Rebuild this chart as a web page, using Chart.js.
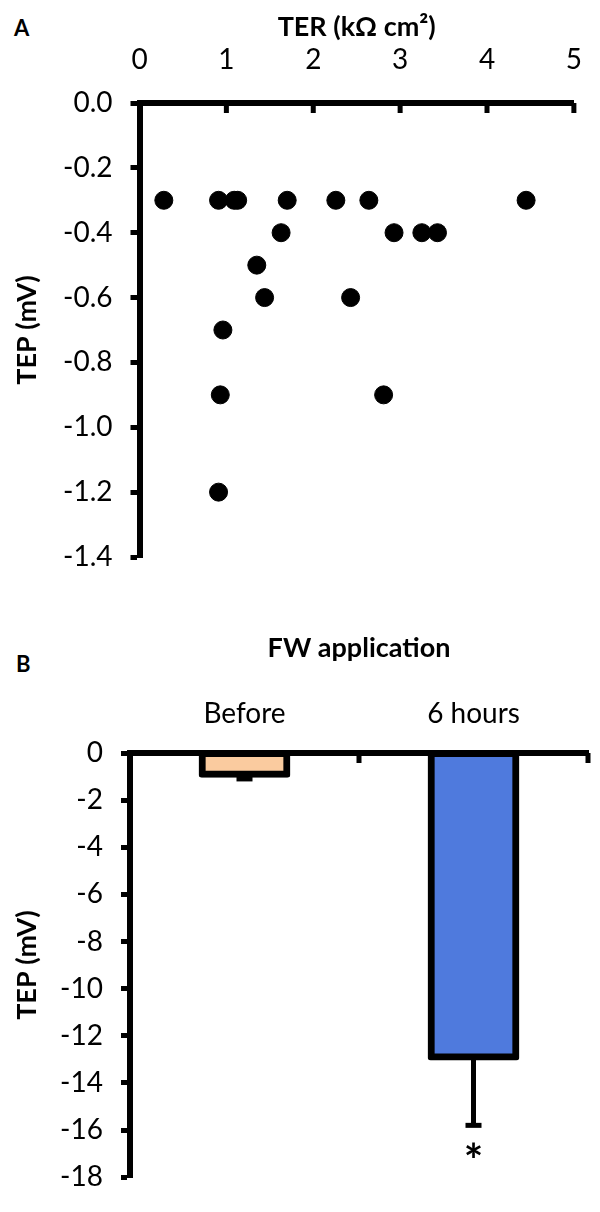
<!DOCTYPE html>
<html>
<head>
<meta charset="utf-8">
<script src="https://cdn.jsdelivr.net/npm/chart.js@4/dist/chart.umd.min.js"></script>
<style>
  body { margin: 0; background: #fff; width: 600px; height: 1212px; position: relative; overflow: hidden; }
  .box { position: absolute; left: 0; width: 600px; }
  .panel { position: absolute; font: bold 22px Lato, "Open Sans", sans-serif; color: #000; }
</style>
</head>
<body>
<div class="panel" style="left:14px; top:14px;">A</div>
<div class="panel" style="left:16px; top:650px;">B</div>
<div class="box" style="top:0; height:600px;"><canvas id="chartA" width="600" height="600"></canvas></div>
<div class="box" style="top:600px; height:612px;"><canvas id="chartB" width="600" height="612"></canvas></div>
<script>
// panel A: TEP vs TER, one point per monolayer
var terValues = [0.28, 0.91, 1.09, 1.13, 1.70, 2.26, 2.64, 4.45, 1.63, 2.93, 3.25, 3.43, 1.35, 1.44, 2.43, 0.96, 0.93, 2.81, 0.91];
var tepValues = [-0.3, -0.3, -0.3, -0.3, -0.3, -0.3, -0.3, -0.3, -0.4, -0.4, -0.4, -0.4, -0.5, -0.6, -0.6, -0.7, -0.9, -0.9, -1.2];

// panel B: TEP before / after FW application
var groups = ["Before", "6 hours"];
var tepMeans = [-0.9, -12.9];
var tepErrors = [0.2, 2.9];
var sigMarks = ["", "*"];
var barColors = ["#FACB9F", "#4F7ADD"];

var FONT = "Lato, 'Open Sans', sans-serif";
Chart.defaults.font.family = FONT;
Chart.defaults.color = "#000";

// tick marks hanging down from a top x axis
var downTicks = {
  id: "downTicks",
  afterDraw: function(chart, args, opts) {
    var x = chart.scales.x, ctx = chart.ctx, top = chart.chartArea.top;
    ctx.save();
    ctx.fillStyle = "#000";
    opts.positions().forEach(function(v) {
      var px = x.getPixelForValue(v);
      ctx.fillRect(px - 2.5, top, 5, 10);
    });
    ctx.restore();
  }
};

new Chart(document.getElementById("chartA").getContext("2d"), {
  type: "scatter",
  data: {
    datasets: [{
      data: terValues.map(function(t, i) { return { x: t, y: tepValues[i] }; }),
      backgroundColor: "#000",
      borderColor: "#000",
      pointRadius: 9,
      pointHoverRadius: 9
    }]
  },
  options: {
    responsive: false,
    animation: false,
    layout: { padding: { left: 0, top: 0, right: 8, bottom: 43 } },
    plugins: {
      legend: { display: false },
      tooltip: { enabled: false },
      downTicks: { positions: function() { return [1, 2, 3, 4, 5]; } }
    },
    scales: {
      x: {
        type: "linear",
        position: "top",
        min: 0, max: 5,
        afterFit: function(s) { s.height = 103; },
        ticks: { stepSize: 1, padding: 18, font: { size: 28 }, color: "#000" },
        grid: { display: false },
        border: { display: true, color: "#000", width: 6 },
        title: { display: true, text: "TER (kΩ cm²)", font: { size: 27, weight: "bold" }, color: "#000", padding: { top: 11, bottom: 0 } }
      },
      y: {
        min: -1.4, max: 0,
        afterFit: function(s) { s.width = 139.5; },
        ticks: { stepSize: 0.2, padding: 18, font: { size: 28 }, color: "#000",
          callback: function(v) { return (Math.abs(v) < 1e-9 ? 0 : v).toFixed(1); } },
        grid: { drawOnChartArea: false, drawTicks: true, tickLength: 9, tickWidth: 5, tickColor: "#000", color: "#000" },
        border: { display: true, color: "#000", width: 6 },
        title: { display: true, text: "TEP (mV)", font: { size: 27, weight: "bold" }, color: "#000", padding: { top: 11, bottom: 0 } }
      }
    }
  },
  plugins: [downTicks]
});

// error bars and significance marks
var errorBars = {
  id: "errorBars",
  afterDatasetsDraw: function(chart) {
    var meta = chart.getDatasetMeta(0), y = chart.scales.y, ctx = chart.ctx;
    ctx.save();
    ctx.fillStyle = "#000";
    meta.data.forEach(function(bar, i) {
      var y0 = y.getPixelForValue(tepMeans[i]);
      var y1 = y.getPixelForValue(tepMeans[i] - tepErrors[i]);
      ctx.fillRect(bar.x - 2.5, y0, 5, y1 - y0);
      ctx.fillRect(bar.x - 8, y1 - 2.5, 16, 5);
      if (sigMarks[i]) {
        ctx.font = "bold 46px " + FONT;
        ctx.textAlign = "center";
        ctx.textBaseline = "alphabetic";
        var m = ctx.measureText(sigMarks[i]);
        ctx.fillText(sigMarks[i], bar.x, y1 + 17 + m.actualBoundingBoxAscent);
      }
    });
    ctx.restore();
  }
};

new Chart(document.getElementById("chartB").getContext("2d"), {
  type: "bar",
  data: {
    labels: groups,
    datasets: [{
      data: tepMeans,
      backgroundColor: barColors,
      borderColor: "#000",
      borderWidth: 7,
      borderRadius: 3,
      borderSkipped: false,
      inflateAmount: 3.5,
      barPercentage: 0.37,
      categoryPercentage: 1
    }]
  },
  options: {
    responsive: false,
    animation: false,
    layout: { padding: { left: 0, top: 0, right: 12, bottom: 17 } },
    plugins: {
      legend: { display: false },
      tooltip: { enabled: false },
      downTicks: { positions: function() { return [0.5, 1.5]; } }
    },
    scales: {
      x: {
        position: "top",
        afterFit: function(s) { s.height = 153; },
        ticks: { padding: 14, font: { size: 28 }, color: "#000" },
        grid: { display: false, offset: true },
        border: { display: true, color: "#000", width: 6 },
        title: { display: true, text: "FW application", font: { size: 27, weight: "bold" }, color: "#000", padding: { top: 32, bottom: 0 } }
      },
      y: {
        min: -18, max: 0,
        afterFit: function(s) { s.width = 130; },
        ticks: { stepSize: 2, padding: 18, font: { size: 28 }, color: "#000" },
        grid: { drawOnChartArea: false, drawTicks: true, tickLength: 9, tickWidth: 5, tickColor: "#000", color: "#000" },
        border: { display: true, color: "#000", width: 6 },
        title: { display: true, text: "TEP (mV)", font: { size: 27, weight: "bold" }, color: "#000", padding: { top: 11, bottom: 0 } }
      }
    }
  },
  plugins: [downTicks, errorBars]
});
</script>
</body>
</html>
